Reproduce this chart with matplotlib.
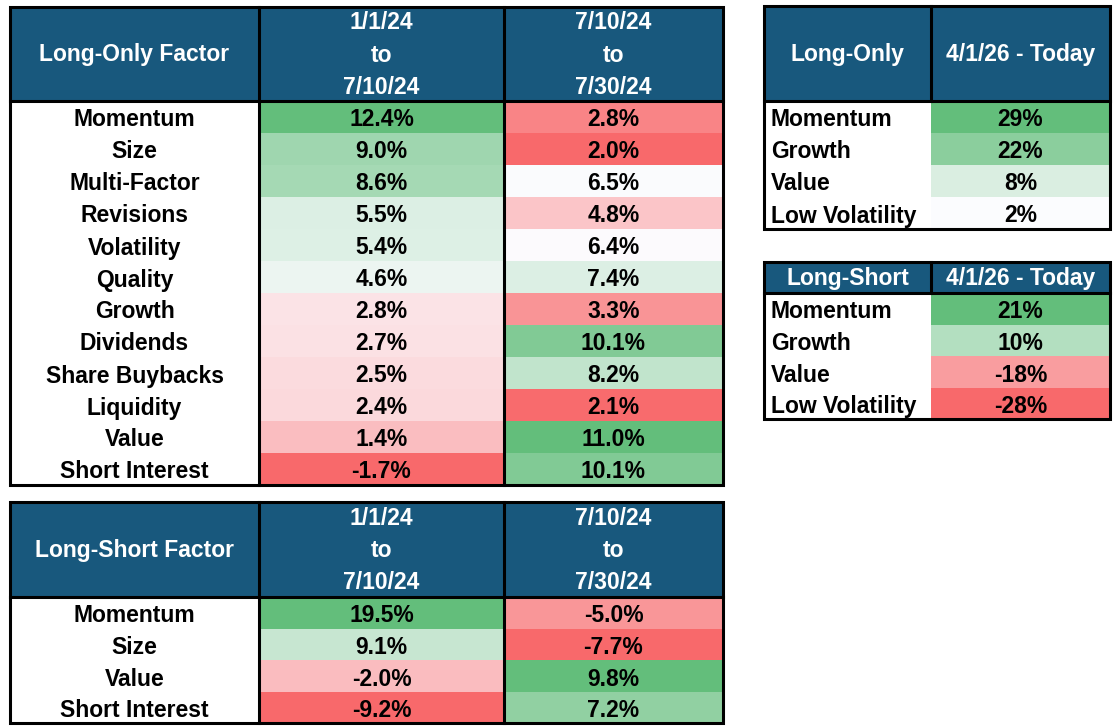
import numpy as np
import matplotlib.pyplot as plt
from matplotlib.colors import LinearSegmentedColormap, TwoSlopeNorm
from matplotlib.patches import Rectangle

# === Table data ===
period_labels = ['1/1/24\nto\n7/10/24', '7/10/24\nto\n7/30/24']
recent_label = '4/1/26 - Today'

lo_factors = ['Momentum', 'Size', 'Multi-Factor', 'Revisions', 'Volatility', 'Quality',
              'Growth', 'Dividends', 'Share Buybacks', 'Liquidity', 'Value', 'Short Interest']
lo_p1 = [12.4, 9.0, 8.6, 5.5, 5.4, 4.6, 2.8, 2.7, 2.5, 2.4, 1.4, -1.7]
lo_p2 = [2.8, 2.0, 6.5, 4.8, 6.4, 7.4, 3.3, 10.1, 8.2, 2.1, 11.0, 10.1]

ls_factors = ['Momentum', 'Size', 'Value', 'Short Interest']
ls_p1 = [19.5, 9.1, -2.0, -9.2]
ls_p2 = [-5.0, -7.7, 9.8, 7.2]

lo_recent_factors = ['Momentum', 'Growth', 'Value', 'Low Volatility']
lo_recent = [29, 22, 8, 2]
ls_recent_factors = ['Momentum', 'Growth', 'Value', 'Low Volatility']
ls_recent = [21, 10, -18, -28]

# Excel-style red / white / green colour scale
HEADER = '#18587d'
cmap = LinearSegmentedColormap.from_list('rwg', ['#f8696b', '#fcfcff', '#63be7b'])
FONT = 'Liberation Sans'
FS = 16.5
LW = 2.2


def col_norm(vals, center=None):
    vals = np.asarray(vals, dtype=float)
    if center is None:
        center = np.median(vals)
    span = max(vals.max() - center, center - vals.min())
    lo = vals.min() if vals.min() < center else center - span
    hi = vals.max() if vals.max() > center else center + span
    return TwoSlopeNorm(vcenter=center, vmin=lo, vmax=hi)


def draw_table(ax, xs, top, head_h, row_h, title, col_titles, labels, cols, fmt,
               centers=None, left_labels=False, body_vlines=True):
    n = len(labels)
    bottom = top + head_h + n * row_h
    # header
    ax.add_patch(Rectangle((xs[0], top), xs[-1] - xs[0], head_h, facecolor=HEADER, edgecolor='none'))
    heads = [title] + col_titles
    for j, h in enumerate(heads):
        ax.text((xs[j] + xs[j + 1]) / 2, top + head_h / 2 + 1, h, color='white', ha='center', va='center',
                fontsize=FS, fontweight='bold', family=FONT, linespacing=1.52)
    # body cells
    for j, vals in enumerate(cols):
        c = None if centers is None else centers[j]
        norm = col_norm(vals, c)
        for i, v in enumerate(vals):
            y = top + head_h + i * row_h
            ax.add_patch(Rectangle((xs[j + 1], y), xs[j + 2] - xs[j + 1], row_h,
                                   facecolor=cmap(norm(v)), edgecolor='none'))
            ax.text((xs[j + 1] + xs[j + 2]) / 2, y + row_h / 2 + 3, fmt.format(v), ha='center', va='center',
                    fontsize=FS, fontweight='bold', family=FONT, color='black')
    for i, lab in enumerate(labels):
        y = top + head_h + i * row_h + row_h / 2 + 3
        if left_labels:
            ax.text(xs[0] + 7, y, lab, ha='left', va='center', fontsize=FS, fontweight='bold', family=FONT)
        else:
            ax.text((xs[0] + xs[1]) / 2, y, lab, ha='center', va='center', fontsize=FS,
                    fontweight='bold', family=FONT)
    # borders
    ax.add_patch(Rectangle((xs[0], top), xs[-1] - xs[0], bottom - top, fill=False, edgecolor='black', lw=LW))
    ax.plot([xs[0], xs[-1]], [top + head_h] * 2, color='black', lw=LW)
    for x in xs[1:-1]:
        ax.plot([x, x], [top, bottom if body_vlines else top + head_h], color='black', lw=LW)


fig = plt.figure(figsize=(11.16, 7.27), dpi=100)
ax = fig.add_axes([0, 0, 1, 1])
ax.set_xlim(0, 1116)
ax.set_ylim(727, 0)
ax.axis('off')

draw_table(ax, [10, 259, 504, 723], 7, 94, 32, 'Long-Only Factor', period_labels,
           lo_factors, [lo_p1, lo_p2], '{:.1f}%')
draw_table(ax, [10, 259, 504, 723], 502, 95, 31.6, 'Long-Short Factor', period_labels,
           ls_factors, [ls_p1, ls_p2], '{:.1f}%')
draw_table(ax, [764, 931, 1110], 6, 95, 32, 'Long-Only', [recent_label],
           lo_recent_factors, [lo_recent], '{:.0f}%', centers=[min(lo_recent)], left_labels=True,
           body_vlines=False)
draw_table(ax, [764, 931, 1110], 262, 31, 31.6, 'Long-Short', [recent_label],
           ls_recent_factors, [ls_recent], '{:.0f}%', centers=[0], left_labels=True, body_vlines=False)

fig.savefig('out.png', dpi=100, facecolor='white')
